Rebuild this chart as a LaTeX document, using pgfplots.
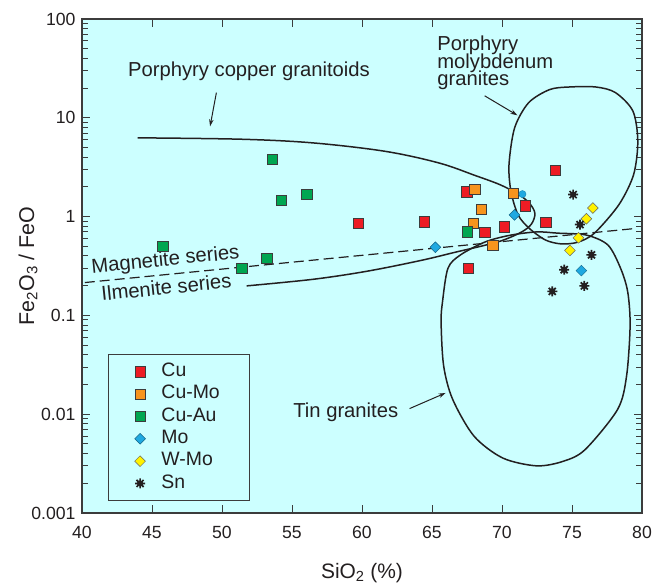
\documentclass[border=0pt]{standalone}
\usepackage{fontspec}
\setmainfont{Liberation Sans}
\usepackage{pgfplots}
\pgfplotsset{compat=1.18}
\usetikzlibrary{arrows.meta,calc}
\definecolor{bgc}{HTML}{CCFFFF}
\definecolor{cured}{HTML}{ED1C24}
\definecolor{cumo}{HTML}{F7941D}
\definecolor{cuau}{HTML}{00A651}
\definecolor{mob}{HTML}{1FA9E1}
\definecolor{wmo}{HTML}{FFF200}
\definecolor{snk}{HTML}{231F20}
\definecolor{edge}{HTML}{3C3C3C}
\definecolor{lin}{HTML}{231F20}
\pgfdeclareplotmark{snstar}{%
  \pgfpathcircle{\pgfpointorigin}{0.62\pgfplotmarksize}\pgfusepathqfill
  \pgfpathmoveto{\pgfqpoint{-\pgfplotmarksize}{0pt}}\pgfpathlineto{\pgfqpoint{\pgfplotmarksize}{0pt}}%
  \pgfpathmoveto{\pgfqpoint{0pt}{-\pgfplotmarksize}}\pgfpathlineto{\pgfqpoint{0pt}{\pgfplotmarksize}}%
  \pgfpathmoveto{\pgfqpoint{-0.7071\pgfplotmarksize}{-0.7071\pgfplotmarksize}}\pgfpathlineto{\pgfqpoint{0.7071\pgfplotmarksize}{0.7071\pgfplotmarksize}}%
  \pgfpathmoveto{\pgfqpoint{-0.7071\pgfplotmarksize}{0.7071\pgfplotmarksize}}\pgfpathlineto{\pgfqpoint{0.7071\pgfplotmarksize}{-0.7071\pgfplotmarksize}}%
  \pgfusepathqstroke
}
\newcommand\ann{\fontsize{20.3}{22}\selectfont}
\begin{document}
\begin{tikzpicture}
\begin{axis}[name=ax, scale only axis, width=560bp, height=494bp,
  xmin=40, xmax=80, ymin=0.001, ymax=100, ymode=log,
  axis background/.style={fill=bgc},
  xtick={40,45,...,80}, xticklabels={40,45,50,55,60,65,70,75,80},
  ytick={0.001,0.01,0.1,1,10,100}, yticklabels={0.001,0.01,0.1,1,10,100},
  /pgf/number format/assume math mode=true,
  tick align=inside, xtick pos=both, ytick pos=both,
  major tick length=8bp, minor tick length=6bp,
  every tick/.style={line width=0.9bp, draw=edge},
  axis line style={line width=2bp, draw=edge},
  tick label style={font=\fontsize{17.7}{20}\selectfont, text=lin},
  xticklabel style={yshift=-9.5bp},
  yticklabel style={xshift=-3bp},
  xlabel={SiO\textsubscript{2} (\%)},
  ylabel={Fe\textsubscript{2}O\textsubscript{3} / FeO},
  xlabel style={at={(axis description cs:0.5,-0.1316)}, anchor=base, font=\fontsize{21}{24}\selectfont, text=lin, inner sep=0pt},
  ylabel style={at={(axis description cs:-0.0964,0.5)}, anchor=center, font=\fontsize{21.5}{24}\selectfont, text=lin, inner sep=0pt},
  legend style={at={(rel axis cs:0.0464,0.322)}, anchor=north west, draw=edge, line width=1.5bp, fill=bgc,
    inner xsep=26bp, inner ysep=6.1bp, font=\fontsize{19.5}{21}\selectfont, text=lin,
    nodes={text height=13.5bp, text depth=4bp, inner ysep=2.4bp, inner xsep=0pt, text width=62bp},
    /tikz/every odd column/.append style={column sep=16bp}},
  legend cell align=left,
]
% porphyry copper tongue
\addplot[lin, line width=1.5bp, smooth, tension=0.55, forget plot] coordinates {
 (43.97,6.27) (51.37,6.07) (56.51,5.57) (61.65,4.58) (65.50,3.49) (68.07,2.61)
 (69.87,2.10) (71.15,1.69) (71.95,1.37) (72.35,1.08) (72.1,0.84) (71.41,0.70)
 (70.12,0.58) (68.84,0.515) (66.78,0.44) (64.21,0.36) (60.36,0.28) (56.51,0.232) (51.76,0.199)};
% porphyry molybdenum loop
\addplot[lin, line width=1.5bp, smooth cycle, forget plot] coordinates {
 (70.5,3.35) (70.9,7.9) (71.9,14.2) (73.4,19.3) (74.8,20.5) (76.7,20.5) (78.1,18)
 (79.35,11.7) (79.7,5.8) (79.4,2.66) (78.35,1.32) (76.6,0.68) (75.4,0.55) (74.2,0.53)
 (73.1,0.58) (71.95,0.76) (71.15,1.04) (70.64,1.80)};
% tin granites loop
\addplot[lin, line width=1.5bp, smooth cycle, forget plot] coordinates {
 (66.14,0.30) (67.04,0.41) (68.84,0.557) (70.64,0.65) (72.5,0.70) (73.98,0.68) (76.03,0.65)
 (77.57,0.515) (78.47,0.30) (78.98,0.173) (79.15,0.079) (78.9,0.0245) (78.26,0.0112)
 (75.95,0.0044) (74.41,0.00335) (72.49,0.0030) (70.06,0.0036) (68.0,0.006) (66.47,0.0142)
 (65.83,0.031) (65.65,0.0855) (65.75,0.137)};
% magnetite / ilmenite boundary
\addplot[lin, line width=1.2bp, dash pattern=on 10bp off 5bp, forget plot] coordinates {(40.2,0.215) (79.6,0.76)};

\addplot[only marks, mark=square*, mark size=5.2bp, mark options={fill=cured, draw=edge, line width=0.6bp}] coordinates {
 (59.74,0.855) (64.45,0.89) (67.48,1.79) (68.76,0.69) (70.17,0.79) (71.66,1.29) (73.13,0.87) (73.82,2.96) (67.58,0.30)};
\addlegendentry{Cu}
\addplot[only marks, mark=square*, mark size=5.2bp, mark options={fill=cumo, draw=edge, line width=0.6bp}] coordinates {
 (68.07,1.90) (68.50,1.19) (67.94,0.86) (70.79,1.71) (69.35,0.51)};
\addlegendentry{Cu-Mo}
\addplot[only marks, mark=square*, mark size=5.2bp, mark options={fill=cuau, draw=edge, line width=0.6bp}] coordinates {
 (53.61,3.80) (54.22,1.46) (56.07,1.68) (45.77,0.50) (53.19,0.38) (51.40,0.30) (67.50,0.70)};
\addlegendentry{Cu-Au}
\addplot[only marks, mark=square*, mark size=3.8bp, mark options={rotate=45, fill=mob, draw=mob!60!black, line width=0.5bp}] coordinates {
 (70.89,1.04) (65.24,0.49) (75.67,0.284)};
\addlegendentry{Mo}
\addplot[only marks, mark=*, mark size=3.6bp, mark options={fill=mob, draw=mob!80!black, line width=0.4bp}, forget plot] coordinates {(71.46,1.69)};
\addplot[only marks, mark=square*, mark size=3.8bp, mark options={rotate=45, fill=wmo, draw=edge!80, line width=0.5bp}] coordinates {
 (76.49,1.22) (76.03,0.95) (75.46,0.61) (74.85,0.455)};
\addlegendentry{W-Mo}
\addplot[only marks, mark=snstar, mark size=5bp, mark options={draw=snk, fill=snk, line width=1.7bp}] coordinates {
 (75.08,1.67) (75.57,0.83) (76.39,0.41) (74.44,0.29) (75.88,0.199) (73.59,0.175)};
\addlegendentry{Sn}

\node[anchor=base west, inner sep=0pt, font=\ann, text=lin] at (axis cs:43.28,26.2) {Porphyry copper granitoids};
\draw[-{Stealth[length=7bp,width=4.5bp]}, line width=1bp, lin] (axis cs:49.6,18) -- (axis cs:49.15,8.2);
\node[anchor=base west, inner sep=0pt, font=\ann, text=lin] at (axis cs:65.37,48.3) {Porphyry};
\node[anchor=base west, inner sep=0pt, font=\ann, text=lin] at (axis cs:65.37,31.4) {molybdenum};
\node[anchor=base west, inner sep=0pt, font=\ann, text=lin] at (axis cs:65.37,21.3) {granites};
\draw[-{Stealth[length=7bp,width=4.5bp]}, line width=1bp, lin] (axis cs:68.76,16.7) -- (axis cs:71.1,10.6);
\node[anchor=base west, inner sep=0pt, font=\ann, text=lin, rotate=5.6] at (axis cs:40.71,0.268) {Magnetite series};
\node[anchor=base west, inner sep=0pt, font=\ann, text=lin, rotate=5.9] at (axis cs:41.43,0.14) {Ilmenite series};
\node[anchor=base west, inner sep=0pt, font=\ann, text=lin] at (axis cs:55.08,0.00925) {Tin granites};
\draw[-{Stealth[length=7bp,width=4.5bp]}, line width=1bp, lin] (axis cs:63.4,0.0114) -- (axis cs:65.97,0.0164);
\end{axis}
\pgfresetboundingbox
\path[use as bounding box] ($(ax.south west)+(-82bp,-70bp)$) rectangle ($(ax.north east)+(22bp,19bp)$);
\end{tikzpicture}
\end{document}
